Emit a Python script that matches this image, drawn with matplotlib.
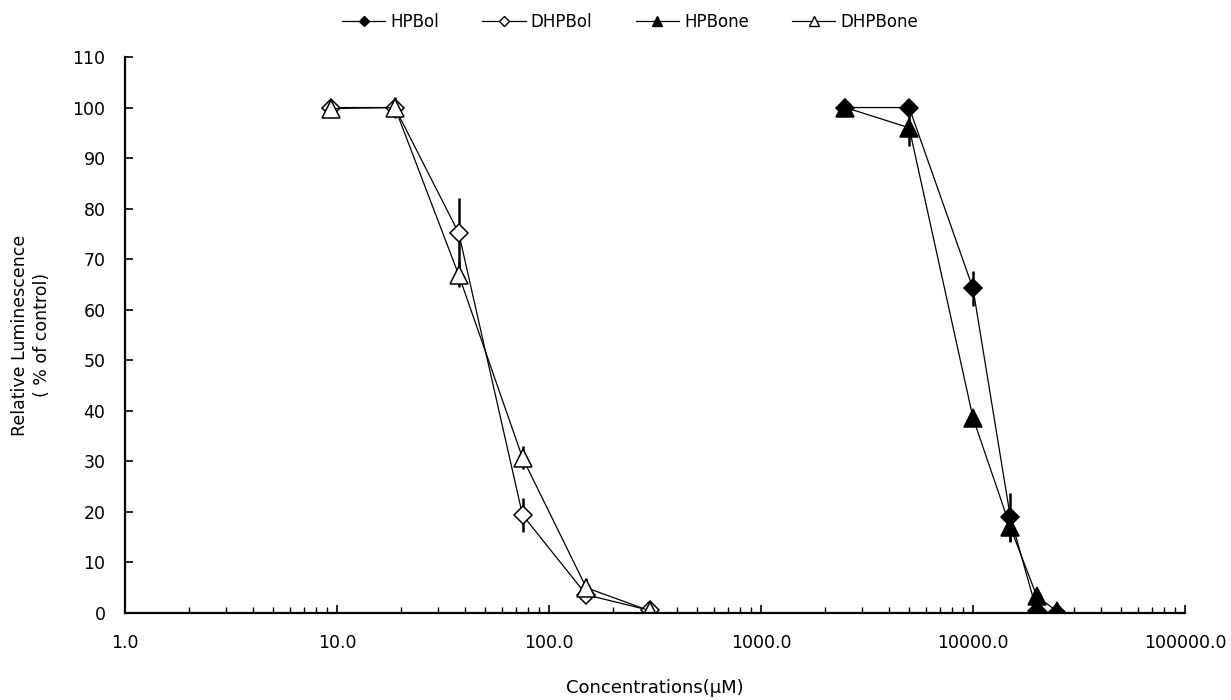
import matplotlib
matplotlib.use("Agg")
import matplotlib.pyplot as plt
from matplotlib.lines import Line2D
from matplotlib.ticker import FixedLocator, LogLocator, NullFormatter

plt.rcParams['font.family'] = ['DejaVu Sans']

# Concentrations (µM)
conc_low = [9.375, 18.75, 37.5, 75, 150, 300]
conc_high = [2500, 5000, 10000, 15000, 20000, 25000]

# Relative luminescence (% of control) and error bars
hpbol = [100, 100, 64.2, 19.0, 0.4, 0.0]
hpbol_err = [0, 0, 3.4, 4.7, 0, 0]
dhpbol = [100, 100, 75.2, 19.4, 3.6, 0.5]
dhpbol_err = [0, 0, 7.0, 3.3, 0.8, 0]
hpbone = [100, 96.0, 38.6, 17.0, 3.3, 0.3]
hpbone_err = [0, 3.7, 0, 3.0, 0, 0]
dhpbone = [99.8, 100, 66.9, 30.7, 5.0, 0.4]
dhpbone_err = [0, 2.0, 2.5, 2.3, 1.9, 0]

x_ticks = [1, 10, 100, 1000, 10000, 100000]
x_tick_labels = ["1.0", "10.0", "100.0", "1000.0", "10000.0", "100000.0"]
y_ticks = list(range(0, 111, 10))

fig = plt.figure(figsize=(12.31, 7.0), dpi=100)
ax = fig.add_axes([125 / 1231, 1 - 613 / 700, 1060 / 1231, 556 / 700])

line_kw = dict(color="black", linewidth=0.9, ecolor="black", elinewidth=1.8,
               capsize=0, markeredgecolor="black", markeredgewidth=1.1)

series = [
    ("HPBol", conc_high, hpbol, hpbol_err, "D", "black", 9.0),
    ("DHPBol", conc_low, dhpbol, dhpbol_err, "D", "white", 9.0),
    ("HPBone", conc_high, hpbone, hpbone_err, "^", "black", 12.5),
    ("DHPBone", conc_low, dhpbone, dhpbone_err, "^", "white", 12.5),
]
handles = []
for name, xs, ys, errs, mk, face, ms in series:
    ax.errorbar(xs, ys, yerr=errs, marker=mk, markerfacecolor=face,
                markersize=ms, **line_kw)
    handles.append(Line2D([], [], color="black", linewidth=0.9, marker=mk,
                          markerfacecolor=face, markeredgecolor="black",
                          markeredgewidth=1.0, markersize=ms * 0.6,
                          label=name))

ax.set_xscale("log")
ax.set_xlim(1, 100000)
ax.set_ylim(0, 110)

ax.xaxis.set_major_locator(FixedLocator(x_ticks))
ax.set_xticklabels(x_tick_labels)
ax.xaxis.set_minor_locator(LogLocator(base=10, subs=range(2, 10)))
ax.xaxis.set_minor_formatter(NullFormatter())
ax.set_yticks(y_ticks)

for side in ("top", "right"):
    ax.spines[side].set_visible(False)
for side in ("left", "bottom"):
    ax.spines[side].set_linewidth(1.6)

ax.tick_params(axis="x", which="major", direction="in", length=6, width=1.2,
               labelsize=12.5, pad=15)
ax.tick_params(axis="x", which="minor", direction="in", length=4, width=1.0)
ax.tick_params(axis="y", which="major", direction="in", length=6, width=1.2,
               labelsize=12.5, pad=14)

fig.text(655 / 1231, 1 - 688 / 700, "Concentrations(\u03bcM)", ha="center",
         va="center", fontsize=13)
fig.text(31 / 1231, 1 - 335 / 700, "Relative Luminescence\n( % of control)",
         rotation=90, ha="center", va="center", fontsize=12.5,
         multialignment="center", linespacing=1.3)

fig.legend(handles=handles, loc="center", ncol=4,
           bbox_to_anchor=(630 / 1231, 1 - 22 / 700), frameon=False,
           fontsize=12, handlelength=2.6, handletextpad=0.3,
           columnspacing=2.6)

fig.savefig("out.png", dpi=100)
